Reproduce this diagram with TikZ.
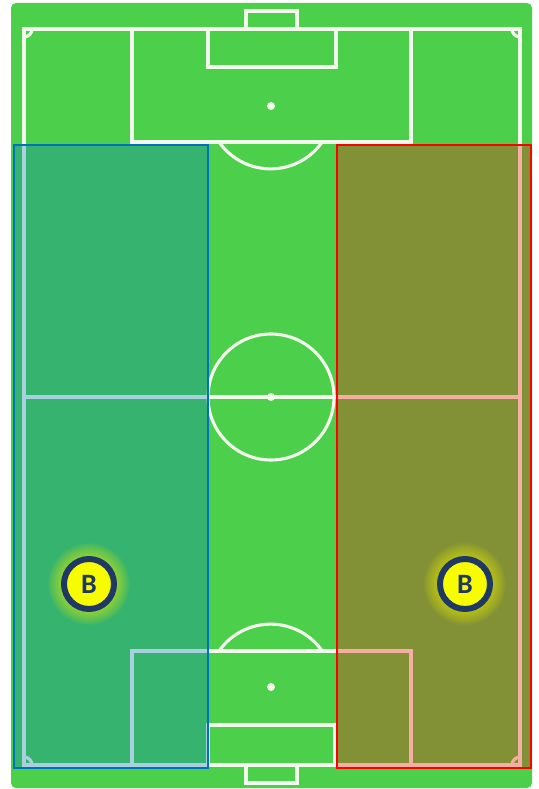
\documentclass[tikz,border=0pt]{standalone}
\usepackage{fontspec}
\setmainfont{Carlito}
\definecolor{pitchgreen}{HTML}{4CD04C}
\definecolor{pitchline}{HTML}{F2FAEC}
\definecolor{zoneblue}{HTML}{0070C0}
\definecolor{zonered}{HTML}{FF0000}
\definecolor{tokenyellow}{HTML}{F8FC00}
\definecolor{tokenblue}{HTML}{1F3864}
\tikzset{
	pitch/.style={draw=pitchline,line width=3.1pt},
	spot/.style={circle,fill=pitchline,inner sep=0pt,minimum size=8pt},
	zone/.style={line width=2.6pt,fill opacity=.3,inner sep=0pt,outer sep=0pt,anchor=north west,rectangle},
	token/.style={circle,fill=tokenyellow,draw=tokenblue,line width=6pt,inner sep=0pt,minimum size=50pt,text=tokenblue,font=\fontsize{28}{28}\selectfont\bfseries}
}
\newcommand{\tokenglow}[1]{
	\foreach \r in {28,29,...,41}
		\fill[tokenyellow,opacity=.045] (#1) circle (\r pt);
}
\begin{document}
\begin{tikzpicture}[x=1pt,y=-1pt]
			\useasboundingbox (0,0) rectangle (538,789);
			\fill[white] (0,0) rectangle (538,789);
			\fill[pitchgreen,rounded corners=5pt] (11,3) rectangle (532,788);
			% lines of the pitch
			\draw[pitch] (24,29) rectangle (520,765);
			\draw[pitch] (520,527) -- (520.7,527) -- (520.7,640) -- (520,640);
			\draw[pitch] (24,397) -- (520,397);
			\draw[pitch] (132,29) rectangle (411,142);
			\draw[pitch] (208,29) rectangle (336,67);
			\draw[pitch] (246,29) -- (246,11) -- (297,11) -- (297,29);
			\draw[pitch] (132,765) -- (132,651) -- (411,651) -- (411,765);
			\draw[pitch] (208,765) -- (208,725) -- (335,725) -- (335,765);
			\draw[pitch] (246,765) -- (246,783) -- (297,783) -- (297,765);
			\draw[pitch] (271,397) circle (63);
			\draw[pitch] (219,142) arc[start angle=145,end angle=35,radius=63];
			\draw[pitch] (219,651) arc[start angle=215,end angle=325,radius=63];
			\draw[pitch] (24,37) arc[start angle=90,end angle=0,radius=8];
			\draw[pitch] (512,29) arc[start angle=180,end angle=90,radius=8];
			\draw[pitch] (32,765) arc[start angle=0,end angle=-90,radius=8];
			\draw[pitch] (512,765) arc[start angle=180,end angle=270,radius=8];
			\node[spot] (s1) at (271,106) {};
			\node[spot] (s2) at (271,397) {};
			\node[spot] (s3) at (271,687) {};
			% wide zones
			\node[zone,draw=zoneblue,fill=zoneblue,minimum width=194pt,minimum height=623pt] (zl) at (14,145) {};
			\node[zone,draw=zonered,fill=zonered,minimum width=194pt,minimum height=623pt] (zr) at (337,145) {};
			% players
			\tokenglow{89,584}
			\tokenglow{465,584}
			\node[token] (bl) at (89,584) {B};
			\node[token] (br) at (465,584) {B};
		\end{tikzpicture}
\end{document}
